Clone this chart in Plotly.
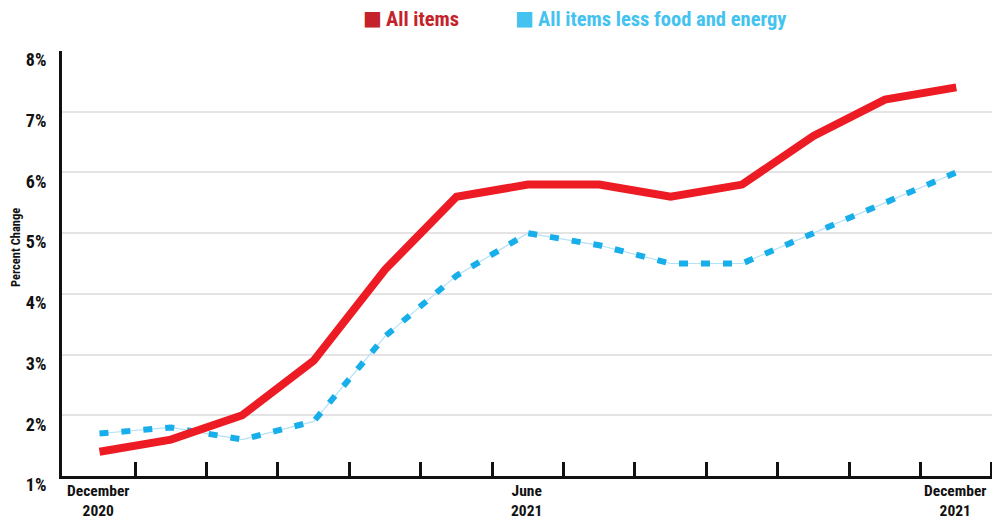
import plotly.graph_objects as go

# Monthly 12-month percent change, December 2020 through December 2021
months = ["Dec 2020", "Jan 2021", "Feb 2021", "Mar 2021", "Apr 2021", "May 2021",
          "Jun 2021", "Jul 2021", "Aug 2021", "Sep 2021", "Oct 2021", "Nov 2021", "Dec 2021"]
all_items = [1.4, 1.6, 2.0, 2.9, 4.4, 5.6, 5.8, 5.8, 5.6, 5.8, 6.6, 7.2, 7.4]
core_items = [1.7, 1.8, 1.6, 1.9, 3.3, 4.3, 5.0, 4.8, 4.5, 4.5, 5.0, 5.5, 6.0]

x_label_pos = [0, 6, 12]
x_label_text = ["December<br>2020", "June<br>2021", "December<br>2021"]
y_ticks = [1, 2, 3, 4, 5, 6, 7, 8]
y_tick_text = ["1%", "2%", "3%", "4%", "5%", "6%", "7%", "8%"]

FONT = "Roboto Condensed, DejaVu Sans Condensed, Roboto, sans-serif"
RED = "#ed1c24"
RED_TEXT = "#c4232b"
BLUE = "#18aeea"
BLUE_THIN = "#b3e1f6"
BLUE_TEXT = "#44c2f0"

x_idx = list(range(len(months)))

fig = go.Figure()

# thin guide line under the dashed core series
fig.add_trace(go.Scatter(x=x_idx, y=core_items, mode="lines",
                         line=dict(color=BLUE_THIN, width=1.2),
                         hoverinfo="skip", showlegend=False))
fig.add_trace(go.Scatter(x=x_idx, y=core_items, mode="lines",
                         name="All items less food and energy",
                         line=dict(color=BLUE, width=6, dash="9px,13px"),
                         showlegend=False))
fig.add_trace(go.Scatter(x=x_idx, y=all_items, mode="lines", name="All items",
                         line=dict(color=RED, width=8), showlegend=False))

fig.update_layout(
    width=992, height=522,
    margin=dict(l=62, r=0, t=51, b=46),
    paper_bgcolor="white", plot_bgcolor="white",
    font=dict(family=FONT, color="#111111"),
    xaxis=dict(
        range=[-0.525, 12.5],
        tickvals=x_label_pos, showticklabels=False,
        ticks="", showgrid=False, zeroline=False,
        showline=True, linecolor="#111111", linewidth=3,
        minor=dict(tickvals=[i + 0.5 for i in range(12)] + [12.49],
                   ticks="inside", ticklen=14, tickwidth=3, tickcolor="#111111",
                   showgrid=False),
    ),
    yaxis=dict(
        range=[1, 8],
        tickvals=y_ticks, ticktext=y_tick_text,
        ticks="", showgrid=True, gridcolor="#e4e4e4", gridwidth=2,
        zeroline=False, showline=True, linecolor="#111111", linewidth=3,
        tickfont=dict(family=FONT, size=18, color="#111111", weight="bold"),
        ticklabelstandoff=9, ticklabelshift=9,
    ),
)

def px_x(p):
    return (p - 62) / 930

def px_y(p):
    return (476 - p) / 425

annotations = [
    dict(text="Percent Change", textangle=-90, x=px_x(15), y=px_y(248),
         font=dict(family=FONT, size=12.5, color="#111111", weight="bold")),
    dict(text="■", x=px_x(372), y=px_y(18),
         font=dict(family="DejaVu Sans", size=20, color=RED_TEXT)),
    dict(text="All items", x=px_x(384), y=px_y(19), xanchor="left",
         font=dict(family=FONT, size=20.5, color=RED_TEXT, weight="bold")),
    dict(text="■", x=px_x(524), y=px_y(18),
         font=dict(family="DejaVu Sans", size=20, color=BLUE_TEXT)),
    dict(text="All items less food and energy", x=px_x(536), y=px_y(19), xanchor="left",
         font=dict(family=FONT, size=20.5, color=BLUE_TEXT, weight="bold")),
]
for a in annotations:
    a.setdefault("xanchor", "center")
    a.update(xref="paper", yref="paper", yanchor="middle", showarrow=False)

# month labels under the axis
for pos, txt in zip(x_label_pos, x_label_text):
    annotations.append(dict(
        text=txt, x=pos - 0.02, xref="x", y=px_y(480), yref="paper",
        xanchor="center", yanchor="top", showarrow=False, align="center",
        font=dict(family=FONT, size=15.5, color="#111111", weight="bold")))

fig.update_layout(annotations=annotations)

fig.write_html("out.html")
